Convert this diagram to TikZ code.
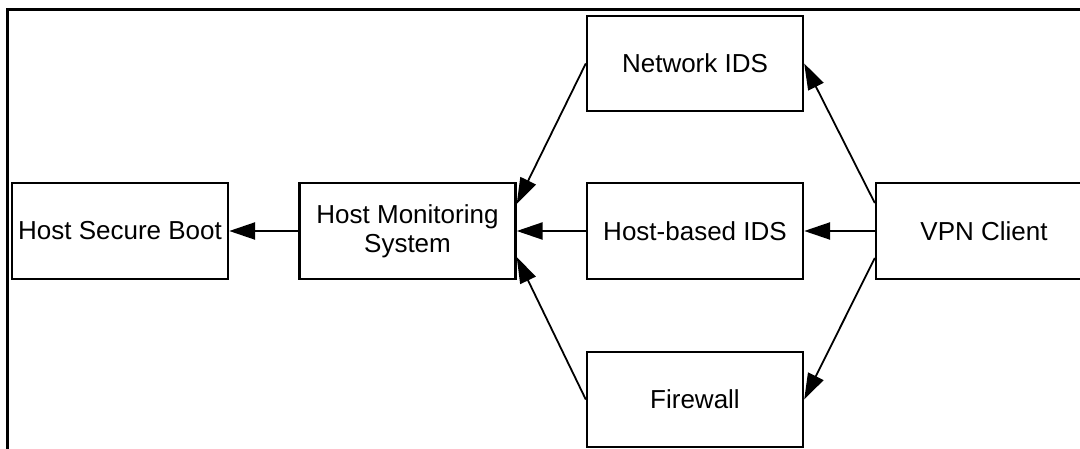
\documentclass[tikz,border=0pt]{standalone}
\usepackage{fontspec}
\setmainfont{Liberation Sans}
\usetikzlibrary{arrows.meta}
\begin{document}
\begin{tikzpicture}[x=1pt,y=-1pt,
  box/.style={draw,line width=2.4pt,minimum width=216pt,minimum height=96pt,inner sep=0pt,
    align=center,font=\fontsize{26}{29}\selectfont},
  conn/.style={line width=2.4pt,-{Triangle[length=26pt,width=17pt]}},
  dconn/.style={line width=1.8pt,-{Triangle[length=26pt,width=17pt]}}]
\useasboundingbox (0,0) rectangle (1080,449);
\clip (0,0) rectangle (1080,449);
\draw[line width=3pt] (7,470) -- (7,10) -- (1100,10);
\node[box] (hsb) at (120,231) {Host Secure Boot};
\node[box] (hms) at (407.5,231) {Host Monitoring\\System};
\node[box] (hids) at (695,231) {Host-based IDS};
\node[box] (vpn) at (984,231) {VPN Client};
\node[box,minimum height=95pt] (nids) at (695,63.5) {Network IDS};
\node[box,minimum height=95pt] (fw) at (695,399.5) {Firewall};
\draw[conn] (hms.west) -- (hsb.east);
\draw[conn] (hids.west) -- (hms.east);
\draw[conn] (vpn.west) -- (hids.east);
\draw[dconn] (nids.west) -- ([yshift=27pt]hms.east);
\draw[dconn] (fw.west) -- ([yshift=-26pt]hms.east);
\draw[dconn] ([yshift=28pt]vpn.west) -- (nids.east);
\draw[dconn] ([yshift=-27pt]vpn.west) -- (fw.east);
\end{tikzpicture}
\end{document}
